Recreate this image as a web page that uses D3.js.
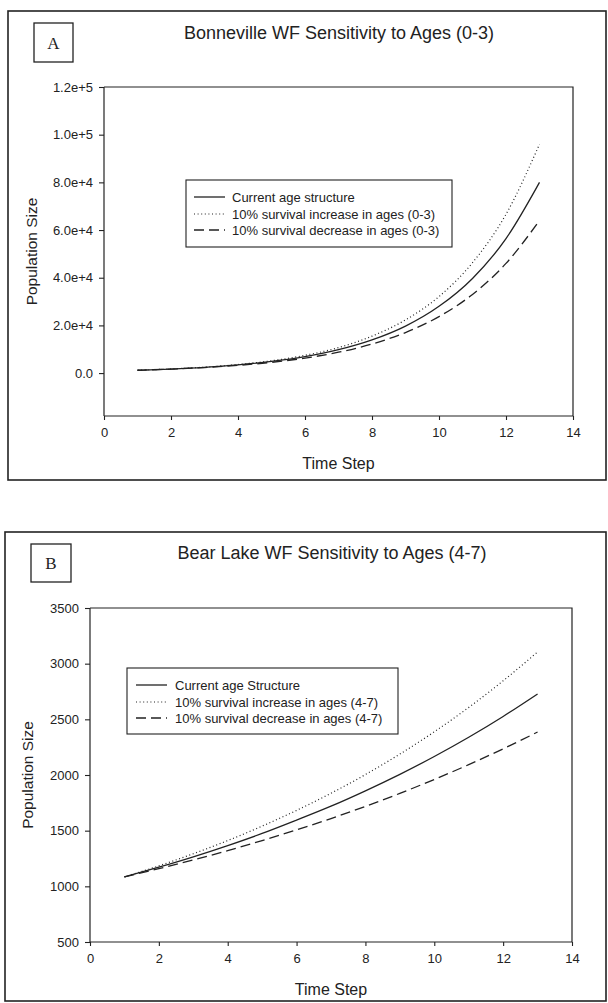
<!DOCTYPE html>
<html>
<head>
<meta charset="utf-8">
<script src="https://cdn.jsdelivr.net/npm/d3@7"></script>
<style>
  html, body { margin: 0; padding: 0; background: #fff; }
  svg { display: block; font-family: "Liberation Sans", Arial, sans-serif; }
</style>
</head>
<body>
<svg id="chart" width="608" height="1003"></svg>
<script>
// Time steps shared by both projections
const timeSteps = [1, 2, 3, 4, 5, 6, 7, 8, 9, 10, 11, 12, 13];

// Panel A: Bonneville whitefish, survival change in ages 0-3
const bonnevilleCurrent  = [1200, 1700, 2420, 3430, 4870, 6900, 9800, 13900, 19700, 28000, 39700, 56400, 80000];
const bonnevilleIncrease = [1200, 1730, 2490, 3590, 5170, 7450, 10700, 15500, 22300, 32100, 46300, 66600, 96000];
const bonnevilleDecrease = [1200, 1670, 2330, 3240, 4520, 6290, 8760, 12200, 17000, 23700, 33000, 46000, 64000];
const bonnevilleYTicks = [0, 20000, 40000, 60000, 80000, 100000, 120000];
const bonnevilleYLabels = ["0.0", "2.0e+4", "4.0e+4", "6.0e+4", "8.0e+4", "1.0e+5", "1.2e+5"];
const bonnevilleLegend = ["Current age structure", "10% survival increase in ages (0-3)", "10% survival decrease in ages (0-3)"];

// Panel B: Bear Lake whitefish, survival change in ages 4-7
const bearLakeCurrent  = [1085, 1172, 1265, 1366, 1475, 1595, 1720, 1858, 2006, 2166, 2339, 2526, 2728];
const bearLakeIncrease = [1085, 1184, 1293, 1411, 1541, 1682, 1836, 2004, 2188, 2388, 2607, 2846, 3105];
const bearLakeDecrease = [1085, 1159, 1237, 1321, 1411, 1507, 1609, 1718, 1835, 1960, 2093, 2235, 2386];
const bearLakeYTicks = [500, 1000, 1500, 2000, 2500, 3000, 3500];
const bearLakeYLabels = ["500", "1000", "1500", "2000", "2500", "3000", "3500"];
const bearLakeLegend = ["Current age Structure", "10% survival increase in ages (4-7)", "10% survival decrease in ages (4-7)"];

const xTicks = [0, 2, 4, 6, 8, 10, 12, 14];

const ink = "#222";
const seriesStyles = [
  { dash: null, width: 1.3 },
  { dash: "1,2.6", width: 1.2 },
  { dash: "10,5", width: 1.3 }
];

const svg = d3.select("#chart");

function drawPanel(p) {
  const g = svg.append("g");

  // outer frame
  g.append("rect")
    .attr("x", p.frame[0]).attr("y", p.frame[1])
    .attr("width", p.frame[2] - p.frame[0]).attr("height", p.frame[3] - p.frame[1])
    .attr("fill", "none").attr("stroke", ink).attr("stroke-width", 1.6);

  // panel letter box
  g.append("rect")
    .attr("x", p.letterBox[0]).attr("y", p.letterBox[1])
    .attr("width", p.letterBox[2] - p.letterBox[0]).attr("height", p.letterBox[3] - p.letterBox[1])
    .attr("fill", "none").attr("stroke", ink).attr("stroke-width", 1.3);
  g.append("text")
    .attr("x", (p.letterBox[0] + p.letterBox[2]) / 2)
    .attr("y", (p.letterBox[1] + p.letterBox[3]) / 2 + 6)
    .attr("text-anchor", "middle")
    .style("font-family", "'Liberation Serif', 'Times New Roman', serif")
    .style("font-size", "17px").attr("fill", ink)
    .text(p.letter);

  // title
  g.append("text")
    .attr("x", p.titleX).attr("y", p.titleY)
    .attr("text-anchor", "middle")
    .style("font-size", "18px").attr("fill", ink)
    .text(p.title);

  const x = d3.scaleLinear().domain([0, 14]).range([p.plot.left, p.plot.right]);
  const y = d3.scaleLinear().domain(p.yDomain).range([p.plot.bottom, p.plot.top]);

  // plot box (top and right edges)
  g.append("path")
    .attr("d", `M${p.plot.left},${p.plot.top}H${p.plot.right}V${p.plot.bottom}`)
    .attr("fill", "none").attr("stroke", ink).attr("stroke-width", 1.2);

  // x axis
  const xAxis = g.append("g")
    .attr("transform", `translate(0,${p.plot.bottom})`)
    .call(d3.axisBottom(x).tickValues(xTicks).tickFormat(d3.format("d")).tickSizeOuter(0).tickSizeInner(4).tickPadding(8));
  // y axis
  const yAxis = g.append("g")
    .attr("transform", `translate(${p.plot.left},0)`)
    .call(d3.axisLeft(y).tickValues(p.yTicks).tickFormat((d, i) => p.yLabels[i]).tickSizeOuter(0).tickSizeInner(5).tickPadding(6));

  [xAxis, yAxis].forEach(a => {
    a.select(".domain").attr("stroke", ink).attr("stroke-width", 1.2);
    a.selectAll(".tick line").attr("stroke", ink).attr("stroke-width", 1.1);
    a.selectAll(".tick text").attr("fill", ink)
      .style("font-family", "'Liberation Sans', Arial, sans-serif").style("font-size", "13px");
  });
  // the axis lines span the full plot edges
  xAxis.select(".domain").attr("d", `M${p.plot.left},0H${p.plot.right}`);
  yAxis.select(".domain").attr("d", `M0,${p.plot.top}V${p.plot.bottom}`);

  // axis titles
  g.append("text")
    .attr("x", (p.plot.left + p.plot.right) / 2).attr("y", p.xTitleY)
    .attr("text-anchor", "middle").style("font-size", "16px").attr("fill", ink)
    .text("Time Step");
  g.append("text")
    .attr("transform", `translate(${p.yTitleX},${(p.plot.top + p.plot.bottom) / 2}) rotate(-90)`)
    .attr("text-anchor", "middle").style("font-size", "15.5px").attr("fill", ink)
    .text("Population Size");

  // series lines
  const line = d3.line()
    .x(d => x(d[0])).y(d => y(d[1]))
    .curve(d3.curveMonotoneX);
  p.series.forEach((vals, i) => {
    const st = seriesStyles[i];
    g.append("path")
      .datum(timeSteps.map((t, k) => [t, vals[k]]))
      .attr("d", line)
      .attr("fill", "none").attr("stroke", ink)
      .attr("stroke-width", st.width)
      .attr("stroke-dasharray", st.dash);
  });

  // legend
  const L = p.legend;
  g.append("rect")
    .attr("x", L.box[0]).attr("y", L.box[1])
    .attr("width", L.box[2] - L.box[0]).attr("height", L.box[3] - L.box[1])
    .attr("fill", "#fff").attr("stroke", ink).attr("stroke-width", 1.1);
  p.legendLabels.forEach((label, i) => {
    const ly = L.rows[i];
    const st = seriesStyles[i];
    g.append("line")
      .attr("x1", L.sample[0]).attr("x2", L.sample[1])
      .attr("y1", ly).attr("y2", ly)
      .attr("stroke", ink).attr("stroke-width", st.width)
      .attr("stroke-dasharray", st.dash);
    g.append("text")
      .attr("x", L.textX).attr("y", ly + 4.5)
      .style("font-size", "13px").attr("fill", ink)
      .text(label);
  });
}

drawPanel({
  frame: [8, 11, 606, 480],
  letterBox: [34, 23, 73, 62],
  letter: "A",
  title: "Bonneville WF Sensitivity to Ages (0-3)",
  titleX: 339, titleY: 39,
  plot: { left: 104, right: 573, top: 87, bottom: 416 },
  yDomain: [-18000, 120000],
  yTicks: bonnevilleYTicks, yLabels: bonnevilleYLabels,
  xTitleY: 469, yTitleX: 37,
  series: [bonnevilleCurrent, bonnevilleIncrease, bonnevilleDecrease],
  legendLabels: bonnevilleLegend,
  legend: { box: [186, 180, 452, 247], rows: [197, 214, 230], sample: [194, 225], textX: 232 }
});

drawPanel({
  frame: [5, 532, 606, 1001],
  letterBox: [31, 544, 71, 582],
  letter: "B",
  title: "Bear Lake WF Sensitivity to Ages (4-7)",
  titleX: 332, titleY: 559,
  plot: { left: 90, right: 572, top: 608, bottom: 942 },
  yDomain: [500, 3500],
  yTicks: bearLakeYTicks, yLabels: bearLakeYLabels,
  xTitleY: 995, yTitleX: 33,
  series: [bearLakeCurrent, bearLakeIncrease, bearLakeDecrease],
  legendLabels: bearLakeLegend,
  legend: { box: [127, 668, 398, 734], rows: [685, 702, 718], sample: [136, 167], textX: 175 }
});
</script>
</body>
</html>
